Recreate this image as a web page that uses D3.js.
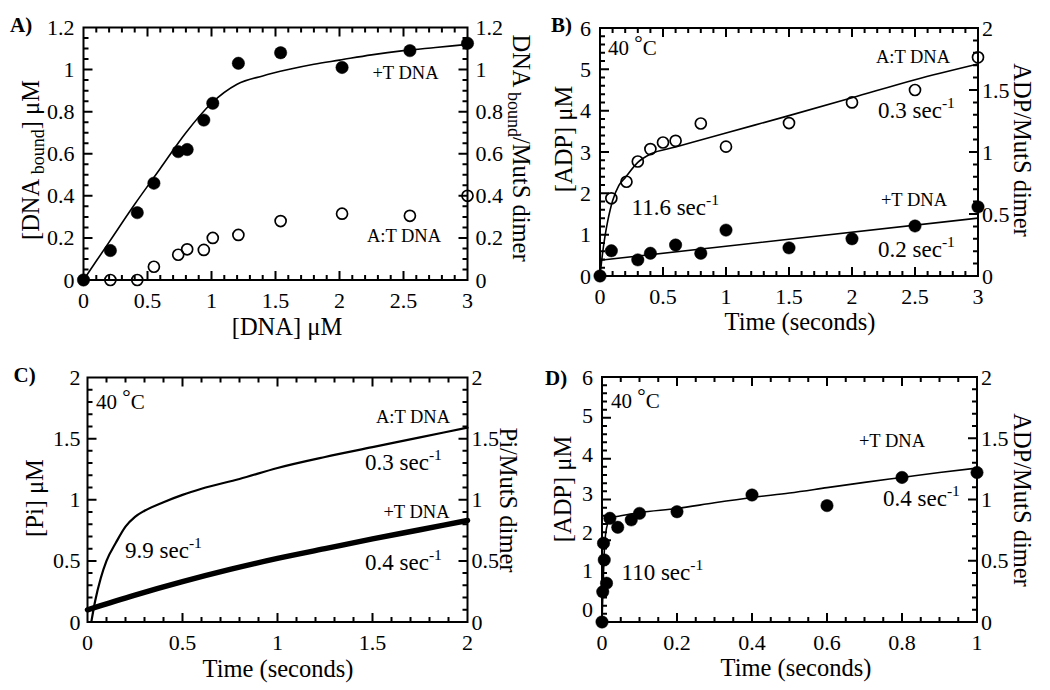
<!DOCTYPE html>
<html>
<head>
<meta charset="utf-8">
<script src="https://cdn.jsdelivr.net/npm/d3@7"></script>
<style>
  body { margin: 0; background: #fff; }
</style>
</head>
<body>
<svg id="fig" width="1050" height="690" font-family="'Liberation Serif', 'Times New Roman', serif"></svg>
<script>
// ---------- data ----------

// A) DNA binding, x = [DNA] uM
const aMisT   = [0, 0.21, 0.42, 0.55, 0.74, 0.81, 0.94, 1.01, 1.21, 1.54, 2.02, 2.55, 3.0];
const aMisY   = [0, 0.14, 0.32, 0.46, 0.61, 0.62, 0.76, 0.84, 1.03, 1.08, 1.01, 1.09, 1.125];
const aMatT   = [0.21, 0.42, 0.55, 0.74, 0.81, 0.94, 1.01, 1.21, 1.54, 2.02, 2.55, 3.0];
const aMatY   = [0, 0, 0.063, 0.12, 0.146, 0.143, 0.2, 0.214, 0.28, 0.315, 0.305, 0.40];
const aFitX   = [0, 0.2, 0.4, 0.6, 0.8, 1.0, 1.2, 1.4, 1.6, 1.8, 2.0, 2.25, 2.5, 2.75, 3.0];
const aFitY   = [0, 0.18, 0.36, 0.53, 0.70, 0.84, 0.93, 0.97, 1.0, 1.025, 1.045, 1.07, 1.09, 1.105, 1.12];

// B) ADP, time in seconds
const bMatT   = [0.09, 0.21, 0.30, 0.40, 0.50, 0.60, 0.80, 1.0, 1.5, 2.0, 2.5, 3.0];
const bMatY   = [1.88, 2.28, 2.77, 3.07, 3.23, 3.27, 3.69, 3.13, 3.70, 4.20, 4.50, 5.29];
const bMisT   = [0, 0.09, 0.30, 0.40, 0.60, 0.80, 1.0, 1.5, 2.0, 2.5, 3.0];
const bMisY   = [0, 0.61, 0.39, 0.55, 0.75, 0.55, 1.11, 0.68, 0.90, 1.21, 1.67];
const bMatFitT = [0, 0.02, 0.04, 0.06, 0.08, 0.1, 0.15, 0.2, 0.3, 0.4, 0.6, 1.0, 1.5, 2.0, 2.5, 3.0];
const bMatFitY = [0, 0.54, 0.97, 1.31, 1.59, 1.82, 2.19, 2.38, 2.75, 2.95, 3.12, 3.46, 3.88, 4.31, 4.75, 5.13];
const bMisFitT = [0, 3.0];
const bMisFitY = [0.38, 1.40];

// C) Pi traces
const cMatT = [0.02, 0.04, 0.07, 0.1, 0.15, 0.2, 0.25, 0.3, 0.4, 0.5, 0.6, 0.8, 1.0, 1.25, 1.5, 1.75, 2.0];
const cMatY = [0, 0.17, 0.36, 0.5, 0.65, 0.78, 0.86, 0.91, 0.98, 1.04, 1.09, 1.17, 1.26, 1.35, 1.43, 1.51, 1.59];
const cMisT = [0, 0.25, 0.5, 0.75, 1.0, 1.25, 1.5, 1.75, 2.0];
const cMisY = [0.1, 0.22, 0.33, 0.43, 0.52, 0.6, 0.68, 0.755, 0.83];

// D) ADP, +T DNA only
const dMisT = [0, 0.002, 0.012, 0.006, 0.004, 0.021, 0.042, 0.078, 0.1, 0.2, 0.4, 0.6, 0.8, 1.0];
const dMisY = [0, 0.74, 0.95, 1.52, 1.93, 2.54, 2.32, 2.50, 2.66, 2.70, 3.11, 2.85, 3.54, 3.66];
const dFitT = [0, 0.002, 0.004, 0.006, 0.008, 0.012, 0.02, 0.03, 0.05, 0.1, 0.2, 0.3, 0.4, 0.5, 0.6, 0.7, 0.8, 0.9, 1.0];
const dFitY = [0, 0.6, 1.2, 1.7, 2.0, 2.3, 2.48, 2.56, 2.6, 2.68, 2.78, 2.92, 3.05, 3.16, 3.29, 3.42, 3.54, 3.66, 3.77];

// tick labels
const ticks0to3   = [0, 0.5, 1, 1.5, 2, 2.5, 3];
const ticks0to2   = [0, 0.5, 1, 1.5, 2];
const ticks0to1   = [0, 0.2, 0.4, 0.6, 0.8, 1];
const ticks0to1_2 = [0, 0.2, 0.4, 0.6, 0.8, 1, 1.2];
const ticks0to6   = [0, 1, 2, 3, 4, 5, 6];

// ---------- drawing ----------
const svg = d3.select("#fig");
const fmt = d => String(+d.toFixed(2));

function minorTicks(dom, step, majors) {
    return d3.range(dom[0], dom[1] + step / 2, step)
        .map(v => +v.toFixed(4))
        .filter(v => !majors.some(m => Math.abs(m - v) < 1e-6));
}

// path segments for inward ticks on one side
function tickPath(scale, vals, len, side, pos) {
    return vals.map(v => {
        const s = scale(v);
        return side === "x" ? `M${s},${pos}V${pos + len}` : `M${pos},${s}H${pos + len}`;
    }).join("");
}

function drawPanel(p) {
    const b = p.box;
    const x = d3.scaleLinear().domain(p.xDomain).range([b.left, b.right]);
    const yL = d3.scaleLinear().domain(p.yLDomain).range([b.bottom, b.top]);
    const yR = d3.scaleLinear().domain(p.yRDomain).range([b.bottom, b.top]);
    const g = svg.append("g");

    // frame and all ticks in one path
    const xMin = minorTicks(p.xDomain, p.xMinor, p.xTicks);
    const frame = `M${b.left},${b.top}H${b.right}V${b.bottom}H${b.left}Z`
        + tickPath(x, p.xTicks, -9, "x", b.bottom)
        + tickPath(x, xMin, -5, "x", b.bottom)
        + tickPath(x, p.xTicks, 9, "x", b.top)
        + tickPath(x, xMin, 5, "x", b.top)
        + tickPath(yL, p.yLTicks, 9, "y", b.left)
        + tickPath(yL, minorTicks(p.yLDomain, p.yLMinor, p.yLTicks), 5, "y", b.left)
        + tickPath(yR, p.yRTicks, -9, "y", b.right)
        + tickPath(yR, minorTicks(p.yRDomain, p.yRMinor, p.yRTicks), -5, "y", b.right);
    g.append("path").attr("d", frame)
        .attr("fill", "none").attr("stroke", "#000").attr("stroke-width", 2);

    // tick labels
    g.append("g").selectAll("text").data(p.xTicks).join("text")
        .attr("x", d => x(d)).attr("y", b.bottom + 28)
        .attr("text-anchor", "middle").attr("font-size", 22).text(fmt);
    g.append("g").selectAll("text").data(p.yLTicks).join("text")
        .attr("x", b.left - p.padL)
        .attr("y", d => yL(d) + 7.5 + (p.labelShift ? p.labelShift(d) : 0))
        .attr("text-anchor", "end").attr("font-size", 22).text(fmt);
    g.append("g").selectAll("text").data(p.yRTicks).join("text")
        .attr("x", b.right + p.padR).attr("y", d => yR(d) + 7.5)
        .attr("text-anchor", "start").attr("font-size", 22).text(fmt);

    // curves
    const line = d3.line().x(d => x(d[0])).y(d => yL(d[1])).curve(d3.curveMonotoneX);
    (p.lines || []).forEach(l => {
        g.append("path").datum(d3.zip(l.x, l.y))
            .attr("d", line).attr("fill", "none")
            .attr("stroke", "#000").attr("stroke-width", l.w || 1.6)
            .attr("stroke-linejoin", "round").attr("stroke-linecap", "round");
    });

    // points
    (p.points || []).forEach(s => {
        g.append("g").selectAll("circle").data(d3.zip(s.x, s.y)).join("circle")
            .attr("cx", d => x(d[0])).attr("cy", d => yL(d[1]))
            .attr("r", s.open ? 5.5 : 6.2)
            .attr("fill", s.open ? "none" : "#000")
            .attr("stroke", "#000").attr("stroke-width", s.open ? 1.7 : 0.5);
    });

    // panel letter
    g.append("text").attr("x", p.letter[1]).attr("y", p.letter[2])
        .attr("font-size", 21).attr("font-weight", "bold").text(p.letter[0]);

    // axis titles
    g.append("text").attr("x", p.xTitle[1]).attr("y", p.xTitle[2])
        .attr("text-anchor", "middle").attr("font-size", 24.5).text(p.xTitle[0]);
    [[p.yLTitle, -90], [p.yRTitle, 90]].forEach(([t, rot]) => {
        const txt = g.append("text")
            .attr("transform", `translate(${t.x},${t.y}) rotate(${rot})`)
            .attr("text-anchor", "middle").attr("dy", "0.35em")
            .attr("font-size", 24.5);
        t.parts.forEach(part => {
            txt.append("tspan")
                .attr("font-size", part.sub ? 18 : 24.5)
                .attr("dy", part.dy || null)
                .text(part.s);
        });
    });

    // annotations
    (p.notes || []).forEach(n => {
        const t = g.append("text").attr("x", n.x).attr("y", n.y)
            .attr("font-size", n.size).attr("text-anchor", n.anchor || "start");
        if (n.sup) {
            t.append("tspan").text(n.s);
            t.append("tspan").attr("font-size", n.size * 0.68).attr("dy", -n.size * 0.42).text(n.sup);
        } else if (n.deg) {
            t.append("tspan").text(n.s);
            t.append("tspan").attr("dy", -n.size * 0.22).text("°");
            t.append("tspan").attr("dy", n.size * 0.22).text("C");
        } else {
            t.text(n.s);
        }
    });
}

const degC = (x, y) => ({s: "40 ", deg: true, x: x, y: y, size: 21});
const rate = (s, x, y) => ({s: s + " sec", sup: "-1", x: x, y: y, size: 23});
const dnaLab = (s, x, y) => ({s: s, x: x, y: y, size: 18.5, anchor: "middle"});

// Panel A
drawPanel({
    box: {left: 83.5, right: 467.5, top: 27.5, bottom: 280},
    xDomain: [0, 3], xTicks: ticks0to3, xMinor: 0.1,
    yLDomain: [0, 1.2], yLTicks: ticks0to1_2, yLMinor: 0.05, padL: 9,
    yRDomain: [0, 1.2], yRTicks: ticks0to1_2, yRMinor: 0.05, padR: 8,
    lines: [{x: aFitX, y: aFitY}],
    points: [{x: aMatT, y: aMatY, open: true}, {x: aMisT, y: aMisY}],
    letter: ["A)", 10, 32],
    xTitle: ["[DNA] \u03bcM", 287, 335],
    yLTitle: {x: 30, y: 160, parts: [{s: "[DNA"}, {s: " bound", sub: true, dy: 5}, {s: "] \u03bcM", dy: -5}]},
    yRTitle: {x: 522, y: 148, parts: [{s: "DNA"}, {s: " bound", sub: true, dy: 5}, {s: "/MutS dimer", dy: -5}]},
    notes: [dnaLab("+T DNA", 405.5, 79), dnaLab("A:T DNA", 404, 241.5)]
});

// Panel B
drawPanel({
    box: {left: 600, right: 978, top: 28, bottom: 276},
    xDomain: [0, 3], xTicks: ticks0to3, xMinor: 0.1,
    yLDomain: [0, 6], yLTicks: ticks0to6, yLMinor: 0.2, padL: 9,
    yRDomain: [0, 2], yRTicks: ticks0to2, yRMinor: 0.1, padR: 4,
    lines: [{x: bMatFitT, y: bMatFitY}, {x: bMisFitT, y: bMisFitY}],
    points: [{x: bMatT, y: bMatY, open: true}, {x: bMisT, y: bMisY}],
    letter: ["B)", 551, 32],
    xTitle: ["Time (seconds)", 800, 330],
    yLTitle: {x: 563, y: 139, parts: [{s: "[ADP] \u03bcM"}]},
    yRTitle: {x: 1022.5, y: 150, parts: [{s: "ADP/MutS dimer"}]},
    notes: [degC(608, 55), dnaLab("A:T DNA", 913, 62.5), rate("0.3", 878, 118),
            rate("11.6", 631.5, 214.5), dnaLab("+T DNA", 914, 206), rate("0.2", 878, 257)]
});

// Panel C
drawPanel({
    box: {left: 87.5, right: 467.5, top: 377.5, bottom: 622},
    xDomain: [0, 2], xTicks: ticks0to2, xMinor: 0.1,
    yLDomain: [0, 2], yLTicks: ticks0to2, yLMinor: 0.1, padL: 7,
    yRDomain: [0, 2], yRTicks: ticks0to2, yRMinor: 0.1, padR: 4,
    lines: [{x: cMatT, y: cMatY, w: 2.2}, {x: cMisT, y: cMisY, w: 5.5}],
    letter: ["C)", 13.5, 382],
    xTitle: ["Time (seconds)", 278, 677],
    yLTitle: {x: 34, y: 498, parts: [{s: "[Pi] \u03bcM"}]},
    yRTitle: {x: 508.5, y: 500, parts: [{s: "Pi/MutS dimer"}]},
    notes: [degC(96, 409), dnaLab("A:T DNA", 413, 423), rate("0.3", 365, 470),
            rate("9.9", 125, 558), dnaLab("+T DNA", 416.5, 517.5), rate("0.4", 365, 570)]
});

// Panel D (left tick labels in the original drift upward toward the bottom)
drawPanel({
    box: {left: 602, right: 977, top: 377, bottom: 622},
    xDomain: [0, 1], xTicks: ticks0to1, xMinor: 0.05,
    yLDomain: [0, 6], yLTicks: ticks0to6, yLMinor: 0.2, padL: 9,
    labelShift: v => -(6 - v) / 6 * 12.5,
    yRDomain: [0, 2], yRTicks: ticks0to2, yRMinor: 0.1, padR: 4,
    lines: [{x: dFitT, y: dFitY}],
    points: [{x: dMisT, y: dMisY}],
    letter: ["D)", 545, 385],
    xTitle: ["Time (seconds)", 796, 676],
    yLTitle: {x: 562.5, y: 489, parts: [{s: "[ADP] \u03bcM"}]},
    yRTitle: {x: 1022.5, y: 500, parts: [{s: "ADP/MutS dimer"}]},
    notes: [degC(611, 407.5), dnaLab("+T DNA", 892, 446.5), rate("0.4", 883, 505.5),
            rate("110", 621.5, 580)]
});
</script>
</body>
</html>
